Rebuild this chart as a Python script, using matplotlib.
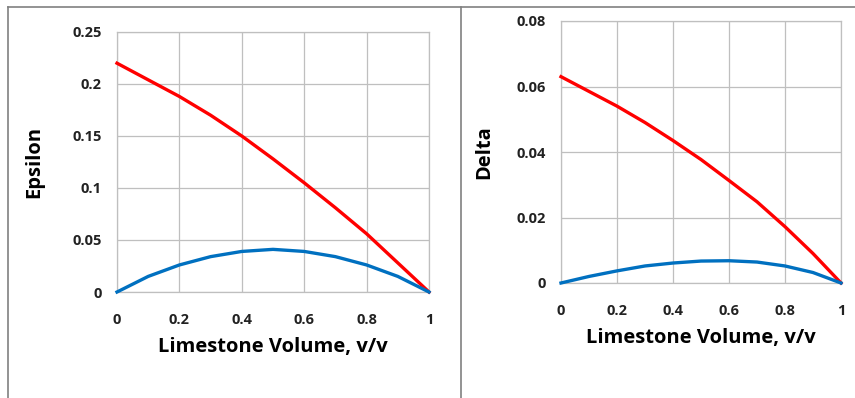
import matplotlib
matplotlib.use('Agg')
import matplotlib.pyplot as plt
from matplotlib.lines import Line2D

# ── data ────────────────────────────────────────────────────────────────
volume = [0, 0.1, 0.2, 0.3, 0.4, 0.5, 0.6, 0.7, 0.8, 0.9, 1.0]
eps_red = [0.22, 0.204, 0.188, 0.170, 0.150, 0.128, 0.105, 0.081, 0.056, 0.028, 0.0]
eps_blue = [0.0, 0.015, 0.026, 0.034, 0.039, 0.041, 0.039, 0.034, 0.026, 0.015, 0.0]
delta_red = [0.063, 0.0585, 0.054, 0.049, 0.0435, 0.0377, 0.0313, 0.0248, 0.0172, 0.009, 0.0]
delta_blue = [0.0, 0.002, 0.0037, 0.0052, 0.0061, 0.0067, 0.0068, 0.0064, 0.0052, 0.0032, 0.0]

eps_ticks = [0, 0.05, 0.1, 0.15, 0.2, 0.25]
eps_labels = ['0', '0.05', '0.1', '0.15', '0.2', '0.25']
delta_ticks = [0, 0.02, 0.04, 0.06, 0.08]
delta_labels = ['0', '0.02', '0.04', '0.06', '0.08']
x_ticks = [0, 0.2, 0.4, 0.6, 0.8, 1.0]
x_labels = ['0', '0.2', '0.4', '0.6', '0.8', '1']

RED = '#FF0000'
BLUE = '#0070C0'
GRID = '#BFBFBF'
FONT = 'Open Sans'

W, H = 855, 398
fig = plt.figure(figsize=(W / 100, H / 100), dpi=100, facecolor='white')


def px_axes(x0, y0, x1, y1):
    return fig.add_axes([x0 / W, 1 - y1 / H, (x1 - x0) / W, (y1 - y0) / H])


def style(ax, yticks, ylabels, ylim, ylabel, ylabel_pad):
    ax.set_xlim(0, 1)
    ax.set_ylim(*ylim)
    ax.set_xticks(x_ticks)
    ax.set_xticklabels(x_labels, fontsize=10.5, fontweight='bold', family=FONT)
    ax.set_yticks(yticks)
    ax.set_yticklabels(ylabels, fontsize=10.5, fontweight='bold', family=FONT)
    ax.grid(True, color=GRID, lw=0.9)
    ax.set_axisbelow(True)
    for s in ax.spines.values():
        s.set_color(GRID)
        s.set_linewidth(0.9)
    ax.tick_params(length=0, colors='#222222')
    ax.tick_params(axis='y', pad=11)
    ax.tick_params(axis='x', pad=15)
    ax.set_xlabel('Limestone Volume, v/v', fontsize=14.5, fontweight='bold',
                  family=FONT, labelpad=7)
    ax.set_ylabel(ylabel, fontsize=14.5, fontweight='bold', family=FONT,
                  labelpad=ylabel_pad)


ax1 = px_axes(117, 32, 429, 292)
ax1.plot(volume, eps_red, color=RED, lw=2.4, clip_on=False, zorder=3)
ax1.plot(volume, eps_blue, color=BLUE, lw=2.4, clip_on=False, zorder=3)
style(ax1, eps_ticks, eps_labels, (0, 0.25), 'Epsilon', 20)

ax2 = px_axes(561, 21, 841, 283)
ax2.plot(volume, delta_red, color=RED, lw=2.4, clip_on=False, zorder=3)
ax2.plot(volume, delta_blue, color=BLUE, lw=2.4, clip_on=False, zorder=3)
style(ax2, delta_ticks, delta_labels, (0, 0.08), 'Delta', 16)

# panel frame lines
frame = '#808080'
fig.add_artist(Line2D([8 / W, 1], [1 - 7 / H] * 2, color=frame, lw=1.2))
fig.add_artist(Line2D([8 / W] * 2, [0, 1 - 7 / H], color=frame, lw=1.2))
fig.add_artist(Line2D([461 / W] * 2, [0, 1 - 7 / H], color=frame, lw=1.2))

fig.savefig('out.png', dpi=100, facecolor='white')
